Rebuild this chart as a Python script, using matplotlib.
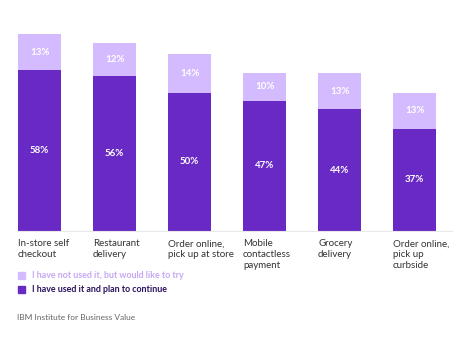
import matplotlib
matplotlib.use("Agg")
import matplotlib.pyplot as plt

categories = ["In-store self\ncheckout", "Restaurant\ndelivery", "Order online,\npick up at store",
              "Mobile\ncontactless\npayment", "Grocery\ndelivery", "Order online,\npick up\ncurbside"]
used_plan = [58, 56, 50, 47, 44, 37]
would_try = [13, 12, 14, 10, 13, 13]
legend_labels = ["I have not used it, but would like to try", "I have used it and plan to continue"]
source = "IBM Institute for Business Value"

dark = "#6929c4"
light = "#d4bbff"

plt.rcParams['font.family'] = ['Lato', 'DejaVu Sans']

fig = plt.figure(figsize=(4.65, 3.38), dpi=100)
W, H = 465, 338
ax = fig.add_axes([18 / W, (H - 231) / H, (452 - 18) / W, 207.75 / H])

x = list(range(len(categories)))
width = 43 / 75
ax.bar(x, used_plan, width=width, color=dark, edgecolor="none")
ax.bar(x, would_try, width=width, bottom=used_plan, color=light, edgecolor="none")

for xi, u, t in zip(x, used_plan, would_try):
    ax.text(xi, u / 2, f"{u}%", ha="center", va="center", color="white", fontsize=7, fontweight="bold")
    ax.text(xi, u + t / 2, f"{t}%", ha="center", va="center", color="white", fontsize=7, fontweight="bold")

ax.set_xlim(-0.287, 5.5)
ax.set_ylim(0, 75)
for s in ["top", "right", "left"]:
    ax.spines[s].set_visible(False)
ax.spines["bottom"].set_color("#e8e8e8")
ax.spines["bottom"].set_linewidth(0.8)
ax.set_yticks([])
ax.set_xticks([])

for xi, c in zip(x, categories):
    ax.annotate(c, xy=(xi - width / 2, 0), xycoords="data", xytext=(0, -6), textcoords="offset points",
                ha="left", va="top", fontsize=7, color="#333333", linespacing=1.28)

# legend
fig.patches.append(plt.Rectangle((18 / W, 1 - 279 / H), 7 / W, 7 / H, transform=fig.transFigure,
                                 color=light, figure=fig))
fig.text(32 / W, 1 - 275.5 / H, legend_labels[0], ha="left", va="center", fontsize=6.4,
         fontweight="bold", color="#c6a8f5")
fig.patches.append(plt.Rectangle((18 / W, 1 - 292.5 / H), 7 / W, 7 / H, transform=fig.transFigure,
                                 color=dark, figure=fig))
fig.text(32 / W, 1 - 289 / H, legend_labels[1], ha="left", va="center", fontsize=6.4,
         fontweight="bold", color="#2a1060")

fig.text(17 / W, 1 - 317.5 / H, source, ha="left", va="center", fontsize=6, color="#666666")

fig.savefig("out.png", dpi=100, facecolor="white")
